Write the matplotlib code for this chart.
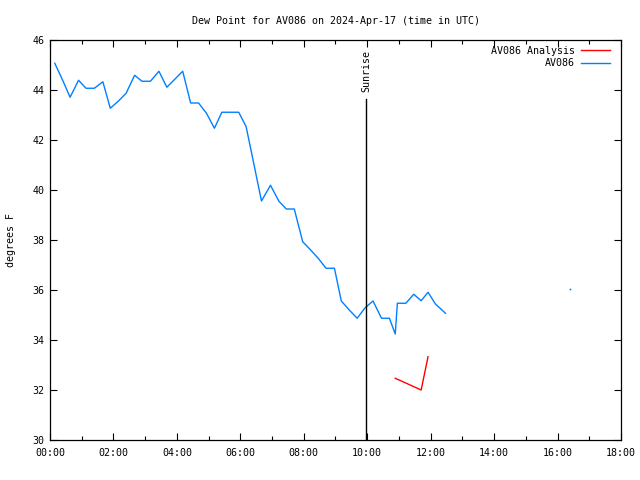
import matplotlib
matplotlib.use("Agg")
import matplotlib.pyplot as plt
import matplotlib.dates as mdates
import pandas as pd

DAY = "2024-04-17"

# AV086 observations (deg F)
obs_times = [
    "00:09", "00:24", "00:38", "00:54", "01:08", "01:24", "01:40", "01:54",
    "02:09", "02:24", "02:40", "02:54", "03:10", "03:26", "03:41", "03:56",
    "04:11", "04:26", "04:41", "04:56", "05:11", "05:25", "05:41", "05:57",
    "06:11", "06:25", "06:40", "06:57", "07:13", "07:27", "07:42", "07:58",
    "08:13", "08:28", "08:42", "08:58", "09:11", "09:26", "09:41", "09:56",
    "10:11", "10:27", "10:42", "10:53", "10:57", "11:13", "11:28", "11:42",
    "11:55", "12:09", "12:28",
]
obs_values = [
    45.07, 44.39, 43.71, 44.39, 44.07, 44.07, 44.33, 43.27,
    43.55, 43.87, 44.59, 44.35, 44.35, 44.75, 44.11, 44.43,
    44.75, 43.48, 43.48, 43.07, 42.47, 43.11, 43.11, 43.11,
    42.53, 41.10, 39.56, 40.19, 39.55, 39.24, 39.24, 37.93,
    37.60, 37.25, 36.87, 36.87, 35.56, 35.20, 34.87, 35.29,
    35.56, 34.87, 34.87, 34.24, 35.47, 35.47, 35.83, 35.57,
    35.91, 35.44, 35.07,
]

# lone observation later in the day
lone_times = ["16:23"]
lone_values = [36.04]

# AV086 Analysis
ana_times = ["10:53", "11:42", "11:55"]
ana_values = [32.47, 32.00, 33.33]

sunrise_time = "09:58"

title = "Dew Point for AV086 on 2024-Apr-17 (time in UTC)"
ylabel = "degrees F"

BLUE = "#0080ff"
RED = "#ff0000"
FONT = "DejaVu Sans Mono"
FS = 7.2


def to_dt(times):
    return pd.to_datetime([f"{DAY} {t}" for t in times])


def main():
    plt.rcParams["font.family"] = [FONT]
    plt.rcParams["font.size"] = FS

    fig = plt.figure(figsize=(6.4, 4.8), dpi=100)
    ax = fig.add_axes([50 / 640, 40 / 480, 571 / 640, 400 / 480])

    ax.plot(to_dt(ana_times), ana_values, color=RED, lw=1.0, label="AV086 Analysis")
    ax.plot(to_dt(obs_times), obs_values, color=BLUE, lw=1.0, label="AV086")
    ax.plot(to_dt(lone_times), lone_values, "s", color=BLUE, ms=1.2, mew=0)

    x0 = pd.Timestamp(f"{DAY} 00:00")
    x1 = pd.Timestamp(f"{DAY} 18:00")
    ax.set_xlim(x0, x1)
    ax.set_ylim(30, 46)

    # sunrise marker
    sr = pd.Timestamp(f"{DAY} {sunrise_time}")
    ax.plot([sr, sr], [30, 43.64], color="black", lw=1.0)
    ax.text(sr, 43.92, "Sunrise", rotation=90, ha="center", va="bottom", fontsize=FS)

    ax.xaxis.set_major_locator(mdates.HourLocator(interval=2))
    ax.xaxis.set_minor_locator(mdates.HourLocator(interval=1))
    ax.xaxis.set_major_formatter(mdates.DateFormatter("%H:%M"))
    ax.set_yticks(range(30, 47, 2))

    ax.tick_params(which="both", direction="in", top=True, right=True, width=0.8)
    ax.tick_params(which="major", length=5, pad=6)
    ax.tick_params(which="minor", length=3)
    ax.tick_params(axis="y", pad=4)
    for side in ax.spines.values():
        side.set_linewidth(0.9)

    ax.set_title(title, fontsize=FS, pad=11.5)
    ax.set_ylabel(ylabel, fontsize=FS, labelpad=11.5)

    ax.legend(loc="upper right", bbox_to_anchor=(1 - 5 / 571, 1), frameon=False,
              markerfirst=False, handlelength=2.9, handletextpad=0.6,
              labelspacing=0.25, borderaxespad=0.2, fontsize=FS)

    fig.savefig("out.png", dpi=100)


if __name__ == "__main__":
    main()
